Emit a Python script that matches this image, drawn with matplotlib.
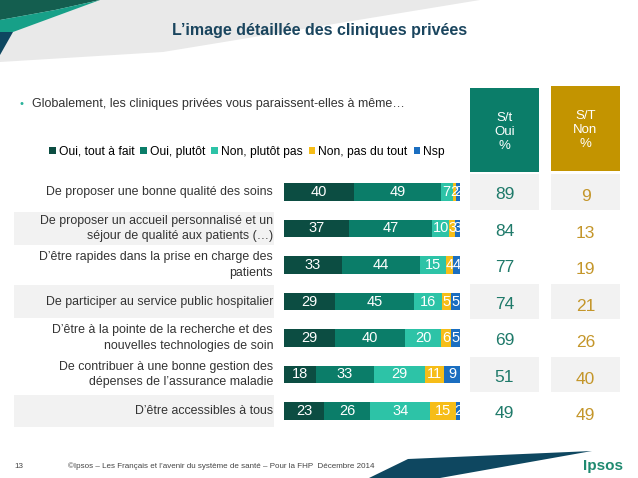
import matplotlib
matplotlib.use("Agg")
import matplotlib.pyplot as plt
from matplotlib.patches import Polygon, Rectangle
from matplotlib.transforms import blended_transform_factory

plt.rcParams["font.family"] = ["Liberation Sans", "DejaVu Sans"]

# Data
items = [
    "De proposer une bonne qualité des soins",
    "De proposer un accueil personnalisé et un\nséjour de qualité aux patients (…)",
    "D’être rapides dans la prise en charge des\npatients",
    "De participer au service public hospitalier",
    "D’être à la pointe de la recherche et des\nnouvelles technologies de soin",
    "De contribuer à une bonne gestion des\ndépenses de l’assurance maladie",
    "D’être accessibles à tous",
]
oui_tout_a_fait = [40, 37, 33, 29, 29, 18, 23]
oui_plutot = [49, 47, 44, 45, 40, 33, 26]
non_plutot_pas = [7, 10, 15, 16, 20, 29, 34]
non_pas_du_tout = [2, 3, 4, 5, 6, 11, 15]
nsp = [2, 3, 4, 5, 5, 9, 2]
st_oui = [89, 84, 77, 74, 69, 51, 49]
st_non = [9, 13, 19, 21, 26, 40, 49]

series = [
    ("Oui, tout à fait", oui_tout_a_fait, "#0c4d42"),
    ("Oui, plutôt", oui_plutot, "#0b7d69"),
    ("Non, plutôt pas", non_plutot_pas, "#2dc3a7"),
    ("Non, pas du tout", non_pas_du_tout, "#f6bd18"),
    ("Nsp", nsp, "#1b6ec0"),
]

W, H = 638, 478
fig = plt.figure(figsize=(W / 100, H / 100), dpi=100)

# background axes in pixel coordinates
bg = fig.add_axes([0, 0, 1, 1])
bg.set_xlim(0, W)
bg.set_ylim(H, 0)
bg.axis("off")

# header decoration
bg.add_patch(Polygon([(0, 0), (480, 0), (163, 52), (0, 62)], closed=True,
                     color="#e9e9e9", lw=0))
bg.add_patch(Polygon([(0, 0), (100, 0), (55, 10), (0, 20)], closed=True,
                     color="#145e4f", lw=0))
bg.add_patch(Polygon([(0, 20), (55, 10), (100, 0), (13, 32), (0, 32)],
                     closed=True, color="#17a088", lw=0))
bg.add_patch(Polygon([(0, 32), (13, 32), (0, 55)], closed=True,
                     color="#0e4760", lw=0))
bg.text(320, 30, "L’image détaillée des cliniques privées", ha="center",
        va="center", fontsize=11.5, fontweight="bold", color="#1a455e")

bg.text(22, 104, "•", ha="center", va="center", fontsize=8, color="#2ab29a")
bg.text(32, 104, "Globalement, les cliniques privées vous paraissent-elles à même…",
        ha="left", va="center", fontsize=9, color="#333333")

# footer
bg.add_patch(Polygon([(369, 478), (408, 459), (592, 451), (440, 478)],
                     closed=True, color="#0e4760", lw=0))
bg.text(14, 466, "13", ha="left", va="center", fontsize=5.8, color="#444444")
bg.text(68, 466, "©Ipsos – Les Français et l’avenir du système de santé – "
        "Pour la FHP  Décembre 2014", ha="left", va="center",
        fontsize=5.8, color="#444444")
bg.text(603, 466, "Ipsos", ha="center", va="center", fontsize=11,
        fontweight="bold", color="#1f8a70")

# header boxes of the totals
bg.add_patch(Rectangle((470, 88), 69, 84, color="#0b7d69", lw=0))
bg.add_patch(Rectangle((551, 86), 69, 85, color="#c39400", lw=0))
bg.text(504.5, 132, "S/t\nOui\n%", ha="center", va="center", fontsize=9.5,
        color="white", linespacing=1.2)
bg.text(585.5, 130, "S/T\nNon\n%", ha="center", va="center", fontsize=9.5,
        color="white", linespacing=1.2)

# bar axes: x 284..460 px -> 0..100, rows every 36.5 px from 192 px
top, step = 192 - 18.25, 36.5
n = len(items)
ax = fig.add_axes([284 / W, 1 - (top + n * step) / H, 176 / W, n * step / H])
ax.set_xlim(0, 100)
ax.set_ylim(n - 0.5, -0.5)
ax.axis("off")
ax.set_zorder(2)

px_y = blended_transform_factory(bg.transData, ax.transData)

# grey bands behind some labels and totals
for i in [1, 3, 6]:
    bg.add_patch(Rectangle((14, i - 0.45), 260, 0.9, transform=px_y,
                           color="#f2f2f2", lw=0, zorder=0))
for i in [0, 3, 5]:
    bg.add_patch(Rectangle((470, i - 0.49), 69, 0.98, transform=px_y,
                           color="#f2f2f2", lw=0, zorder=0))
    bg.add_patch(Rectangle((551, i - 0.49), 69, 0.98, transform=px_y,
                           color="#f2f2f2", lw=0, zorder=0))

rows = list(range(n))
left = [0] * n
handles = []
for name, vals, col in series:
    b = ax.barh(rows, vals, left=left, height=0.49, color=col, label=name)
    handles.append(b)
    for i, v in enumerate(vals):
        t = ax.text(left[i] + v / 2, i, str(v), ha="center", va="center",
                    fontsize=10.5, color="white")
        # narrow segments cut their label, as on the slide
        t.set_clip_path(b.patches[i])
    left = [l + v for l, v in zip(left, vals)]

for i, lab in enumerate(items):
    bg.text(273, i, lab, transform=px_y, ha="right", va="center",
            fontsize=8.9, color="#333333", linespacing=1.4)
    bg.text(504.5, i + 0.08, str(st_oui[i]), transform=px_y, ha="center",
            va="center", fontsize=12.5, color="#1f7a6a")
    bg.text(585.5, i + 0.13, str(st_non[i]), transform=px_y, ha="center",
            va="center", fontsize=12.5, color="#c4962a")

fig.legend(handles=handles, loc="center", bbox_to_anchor=(247 / W, 1 - 152 / H),
           ncol=5, frameon=False, fontsize=8.7, handlelength=0.55,
           handleheight=0.55, handletextpad=0.25, columnspacing=0.5,
           borderaxespad=0)

fig.savefig("out.png", dpi=100)
